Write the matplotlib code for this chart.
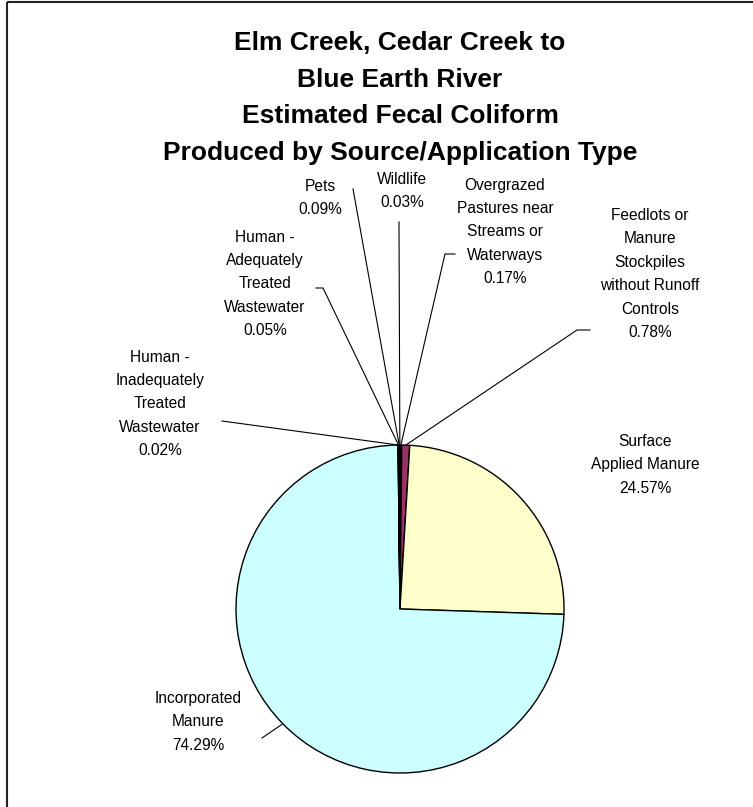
import numpy as np
import matplotlib.pyplot as plt
from matplotlib.patches import Rectangle

plt.rcParams['font.family'] = ['Liberation Sans', 'DejaVu Sans']

# pie data, in drawing order (clockwise from 12 o'clock)
labels = ['Overgrazed\nPastures near\nStreams or\nWaterways',
          'Feedlots or\nManure\nStockpiles\nwithout Runoff\nControls',
          'Surface\nApplied Manure',
          'Incorporated\nManure',
          'Human -\nInadequately\nTreated\nWastewater',
          'Human -\nAdequately\nTreated\nWastewater',
          'Pets',
          'Wildlife']
percent = [0.17, 0.78, 24.57, 74.29, 0.02, 0.05, 0.09, 0.03]
colors = ['#9999FF', '#993366', '#FFFFCC', '#CCFFFF', '#660066', '#FF8080', '#0066CC', '#CCCCFF']

title = ('Elm Creek, Cedar Creek to\nBlue Earth River\n'
         'Estimated Fecal Coliform\nProduced by Source/Application Type')

W, H = 753, 807
# label block centres (pixels from top-left)
label_pos = [(505, 232), (650, 274), (645, 465), (198, 722),
             (160, 404), (265, 284), (320, 198), (402, 191)]
# leader line: label-side points (None = no leader)
leader_pts = [[(455, 254), (445, 254)],
              [(590, 330), (577, 330)],
              None,
              [(262, 738)],
              [(222, 421)],
              [(316, 288), (323, 288)],
              [(353, 189)],
              [(399, 222)]]

fig = plt.figure(figsize=(W / 100, H / 100), dpi=100)

# pie axes: centre (400, 609), radius 164 px
cx, cy, r = 400, 609, 164
pax = fig.add_axes([(cx - r) / W, 1 - (cy + r) / H, 2 * r / W, 2 * r / H])
wedges, _ = pax.pie(percent, colors=colors, startangle=90, counterclock=False,
                    radius=1, wedgeprops=dict(edgecolor='black', linewidth=1.0))
pax.set_xlim(-1, 1)
pax.set_ylim(-1, 1)
pax.set_aspect('auto')
pax.axis('off')

# overlay in pixel coords (y down)
ov = fig.add_axes([0, 0, 1, 1], zorder=5)
ov.set_xlim(0, W)
ov.set_ylim(H, 0)
ov.axis('off')
ov.patch.set_alpha(0)

ov.add_patch(Rectangle((7, 2), W + 20, H + 20, fill=False, edgecolor='#222222', linewidth=1.5))

ov.text(400, 98, title, ha='center', va='center', fontsize=19, fontweight='bold',
        linespacing=1.66)

cum = np.cumsum([0] + percent[:-1])
for i, (lab, p) in enumerate(zip(labels, percent)):
    x, y = label_pos[i]
    ov.text(x, y, f'{lab}\n{p:.2f}%', ha='center', va='center', fontsize=11.2,
            linespacing=1.7)
    if leader_pts[i] is None:
        continue
    mid = np.deg2rad(90 - 3.6 * (cum[i] + p / 2))
    dx, dy = pax.transData.transform((np.cos(mid), np.sin(mid)))
    ax_pt = (dx, H - dy)
    pts = leader_pts[i] + [ax_pt]
    ov.plot([q[0] for q in pts], [q[1] for q in pts], color='black', linewidth=0.8)

fig.savefig('out.png', dpi=100)
